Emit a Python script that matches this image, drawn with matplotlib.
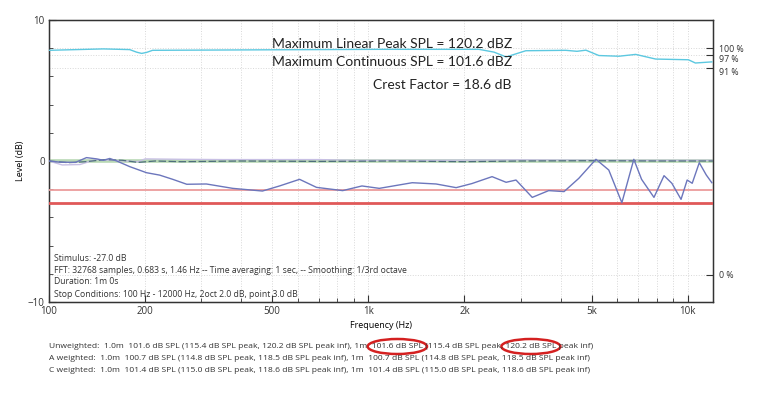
import numpy as np
import matplotlib
matplotlib.use("Agg")
import matplotlib.pyplot as plt
import matplotlib.transforms as mtransforms
from matplotlib.patches import Ellipse
from matplotlib.ticker import FixedLocator, NullFormatter

plt.rcParams['font.family'] = ['Open Sans', 'DejaVu Sans']

# ---- data ----
cyan_f = [100, 148, 179, 188, 195, 202, 211, 424, 1082, 2220, 2476, 2700,
          3112, 4152, 4500, 4800, 5270, 6090, 6870, 7940, 10050, 10570, 11900]
cyan_db = [7.85, 7.95, 7.9, 7.72, 7.63, 7.7, 7.85, 7.88, 7.92, 7.92, 7.72, 7.38,
           7.82, 7.85, 7.78, 7.86, 7.48, 7.43, 7.56, 7.23, 7.18, 6.95, 7.03]

blue_f = [100, 108, 121, 131, 141, 148, 155, 163, 179, 202, 222, 244, 270,
          311, 376, 466, 527, 609, 688, 831, 955, 1082, 1372, 1630, 1883,
          2110, 2440, 2700, 2900, 3260, 3670, 4100, 4560, 5160, 5660, 6220,
          6780, 7170, 7840, 8430, 8920, 9530, 9960, 10330, 10870, 11430, 11900]
blue_db = [0.0, -0.08, -0.1, 0.24, 0.15, 0.05, 0.18, 0.0, -0.4, -0.83, -1.0,
           -1.3, -1.65, -1.63, -1.94, -2.13, -1.77, -1.3, -1.87, -2.1, -1.77,
           -1.94, -1.54, -1.63, -1.89, -1.6, -1.11, -1.51, -1.35, -2.58, -2.1,
           -2.17, -1.23, 0.12, -0.64, -2.96, 0.12, -1.3, -2.58, -1.04, -1.58,
           -2.72, -1.35, -1.58, -0.12, -0.99, -1.54]

lav_f = [100, 110, 125, 140, 160, 190, 200, 260, 350, 500, 700, 900, 1500, 3000, 6000, 12000]
lav_db = [0.0, -0.28, -0.25, 0.1, 0.05, -0.05, 0.15, 0.12, 0.1, 0.1, 0.1, 0.05, 0.05, 0.08, 0.05, 0.05]

dark_f = [100, 115, 130, 150, 170, 190, 215, 260, 400, 700, 1200, 2000, 3000, 5000, 8000, 12000]
dark_db = [0.0, -0.12, -0.05, 0.1, 0.05, -0.1, 0.0, -0.05, 0.0, -0.03, 0.0, -0.05, 0.0, 0.02, 0.0, 0.0]

green_f = [100, 12000]
green_db = [0.0, 0.0]

limit_light_db = -2.06
limit_red_db = -3.0

xticks = [100, 200, 500, 1000, 2000, 5000, 10000]
xtick_labels = ["100", "200", "500", "1k", "2k", "5k", "10k"]
xminor = [300, 400, 600, 700, 800, 900, 3000, 4000, 6000, 7000, 8000, 9000]

pct_ticks = [0, 91, 97, 100]
pct_labels = ["0 %", "91 %", "97 %", "100 %"]

headline = ["Maximum Linear Peak SPL = 120.2 dBZ",
            "Maximum Continuous SPL = 101.6 dBZ",
            "Crest Factor = 18.6 dB"]

info_lines = ["Stimulus: -27.0 dB",
              "FFT: 32768 samples, 0.683 s, 1.46 Hz -- Time averaging: 1 sec, -- Smoothing: 1/3rd octave",
              "Duration: 1m 0s",
              "Stop Conditions: 100 Hz - 12000 Hz, 2oct 2.0 dB, point 3.0 dB"]

summary_lines = [
    "Unweighted:  1.0m  101.6 dB SPL (115.4 dB SPL peak, 120.2 dB SPL peak inf), 1m  101.6 dB SPL (115.4 dB SPL peak, 120.2 dB SPL peak inf)",
    "A weighted:  1.0m  100.7 dB SPL (114.8 dB SPL peak, 118.5 dB SPL peak inf), 1m  100.7 dB SPL (114.8 dB SPL peak, 118.5 dB SPL peak inf)",
    "C weighted:  1.0m  101.4 dB SPL (115.0 dB SPL peak, 118.6 dB SPL peak inf), 1m  101.4 dB SPL (115.0 dB SPL peak, 118.6 dB SPL peak inf)",
]
# parts of the first summary line circled in red
circled = [("Unweighted:  1.0m  101.6 dB SPL (115.4 dB SPL peak, 120.2 dB SPL peak inf), 1m  ", "101.6 dB SPL"),
           ("Unweighted:  1.0m  101.6 dB SPL (115.4 dB SPL peak, 120.2 dB SPL peak inf), 1m  101.6 dB SPL (115.4 dB SPL peak, ", "120.2 dB SPL")]

# ---- figure ----
W, H = 766, 396
fig = plt.figure(figsize=(W / 100, H / 100), dpi=100)
ax = fig.add_axes([49 / W, 1 - 302 / H, 664 / W, 282 / H])

ax.set_xscale("log")
ax.set_xlim(100, 12000)
ax.set_ylim(-10, 10)

ax.plot(green_f, green_db, color="#b8d8b4", lw=2.6, zorder=2)
ax.plot(lav_f, lav_db, color="#c8c0e4", lw=1.0, zorder=2)
ax.plot(dark_f, dark_db, color="#4e6e7c", lw=0.9, dashes=(6, 2), zorder=3)
ax.plot(blue_f, blue_db, color="#6c76bc", lw=1.0, zorder=4)
ax.plot(cyan_f, cyan_db, color="#5cc8e0", lw=1.0, zorder=4)
ax.axhline(limit_light_db, color="#ec9c9c", lw=1.3, zorder=3)
ax.axhline(limit_red_db, color="#e05858", lw=2.0, zorder=3)

ax.xaxis.set_major_locator(FixedLocator(xticks))
ax.set_xticklabels(xtick_labels)
ax.xaxis.set_minor_locator(FixedLocator(xminor))
ax.xaxis.set_minor_formatter(NullFormatter())
ax.set_yticks([-10, 0, 10])
ax.yaxis.set_minor_locator(FixedLocator([-8, -6, -4, -2, 2, 4, 6, 8]))
ax.tick_params(which="both", direction="in", labelsize=7, colors="#333333", pad=3)
ax.tick_params(which="major", length=5)
ax.tick_params(which="minor", length=3)
ax.grid(True, axis="x", which="both", color="#d8d8d8", ls=":", lw=0.7)
for s in ax.spines.values():
    s.set_color("#333333")
    s.set_linewidth(1.0)

ax.set_xlabel("Frequency (Hz)", fontsize=6.5, labelpad=3)
ax.set_ylabel("Level (dB)", fontsize=6.5, labelpad=2)

ax2 = ax.twinx()
ax2.set_ylim(-(302 - 275) / 227 * 100, (275 - 20) / 227 * 100)
ax2.set_yticks(pct_ticks)
ax2.set_yticklabels(pct_labels)
ax2.tick_params(direction="in", length=5, labelsize=6.3, colors="#333333", pad=4)
ax2.grid(True, axis="y", color="#d8d8d8", ls=":", lw=0.7)
ax2.set_zorder(0)
ax.set_zorder(1)
ax.patch.set_visible(False)
# the 97 % and 91 % labels sit a little below their ticks
for lab, v in zip(ax2.get_yticklabels(), pct_ticks):
    if v in (91, 97):
        lab.set_transform(lab.get_transform() +
                          mtransforms.ScaledTranslation(0, -2.5 / 72, fig.dpi_scale_trans))

head_y = [0.914, 0.852, 0.768]
for t, y in zip(headline, head_y):
    ax.text(0.697, y, t, transform=ax.transAxes, ha="right", va="center",
            fontsize=10, color="#222222", family=["Lato", "DejaVu Sans"], zorder=6)

info_y = [0.156, 0.113, 0.071, 0.028]
for t, y in zip(info_lines, info_y):
    ax.text(0.008, y, t, transform=ax.transAxes, ha="left", va="center",
            fontsize=6.2, color="#333333", zorder=6)

sum_y = [1 - 347 / H, 1 - 359 / H, 1 - 371 / H]
sum_x = 49 / W
for t, y in zip(summary_lines, sum_y):
    fig.text(sum_x, y, t, ha="left", va="center", fontsize=6.1, color="#333333")

# red ellipses placed around the measured text pieces
renderer = fig.canvas.get_renderer()
def text_width(s):
    tt = fig.text(0, 0, s, fontsize=6.1)
    w = tt.get_window_extent(renderer).width
    tt.remove()
    return w

for prefix, target in circled:
    w_all = text_width(prefix + target)
    w_t = text_width(target)
    cx = sum_x * W + w_all - w_t / 2
    fig.patches.append(Ellipse((cx / W, 1 - 346.5 / H), (w_t + 8) / W, 15 / H,
                               transform=fig.transFigure, fill=False,
                               edgecolor="#d42020", lw=1.8))

fig.savefig("out.png", dpi=100)
